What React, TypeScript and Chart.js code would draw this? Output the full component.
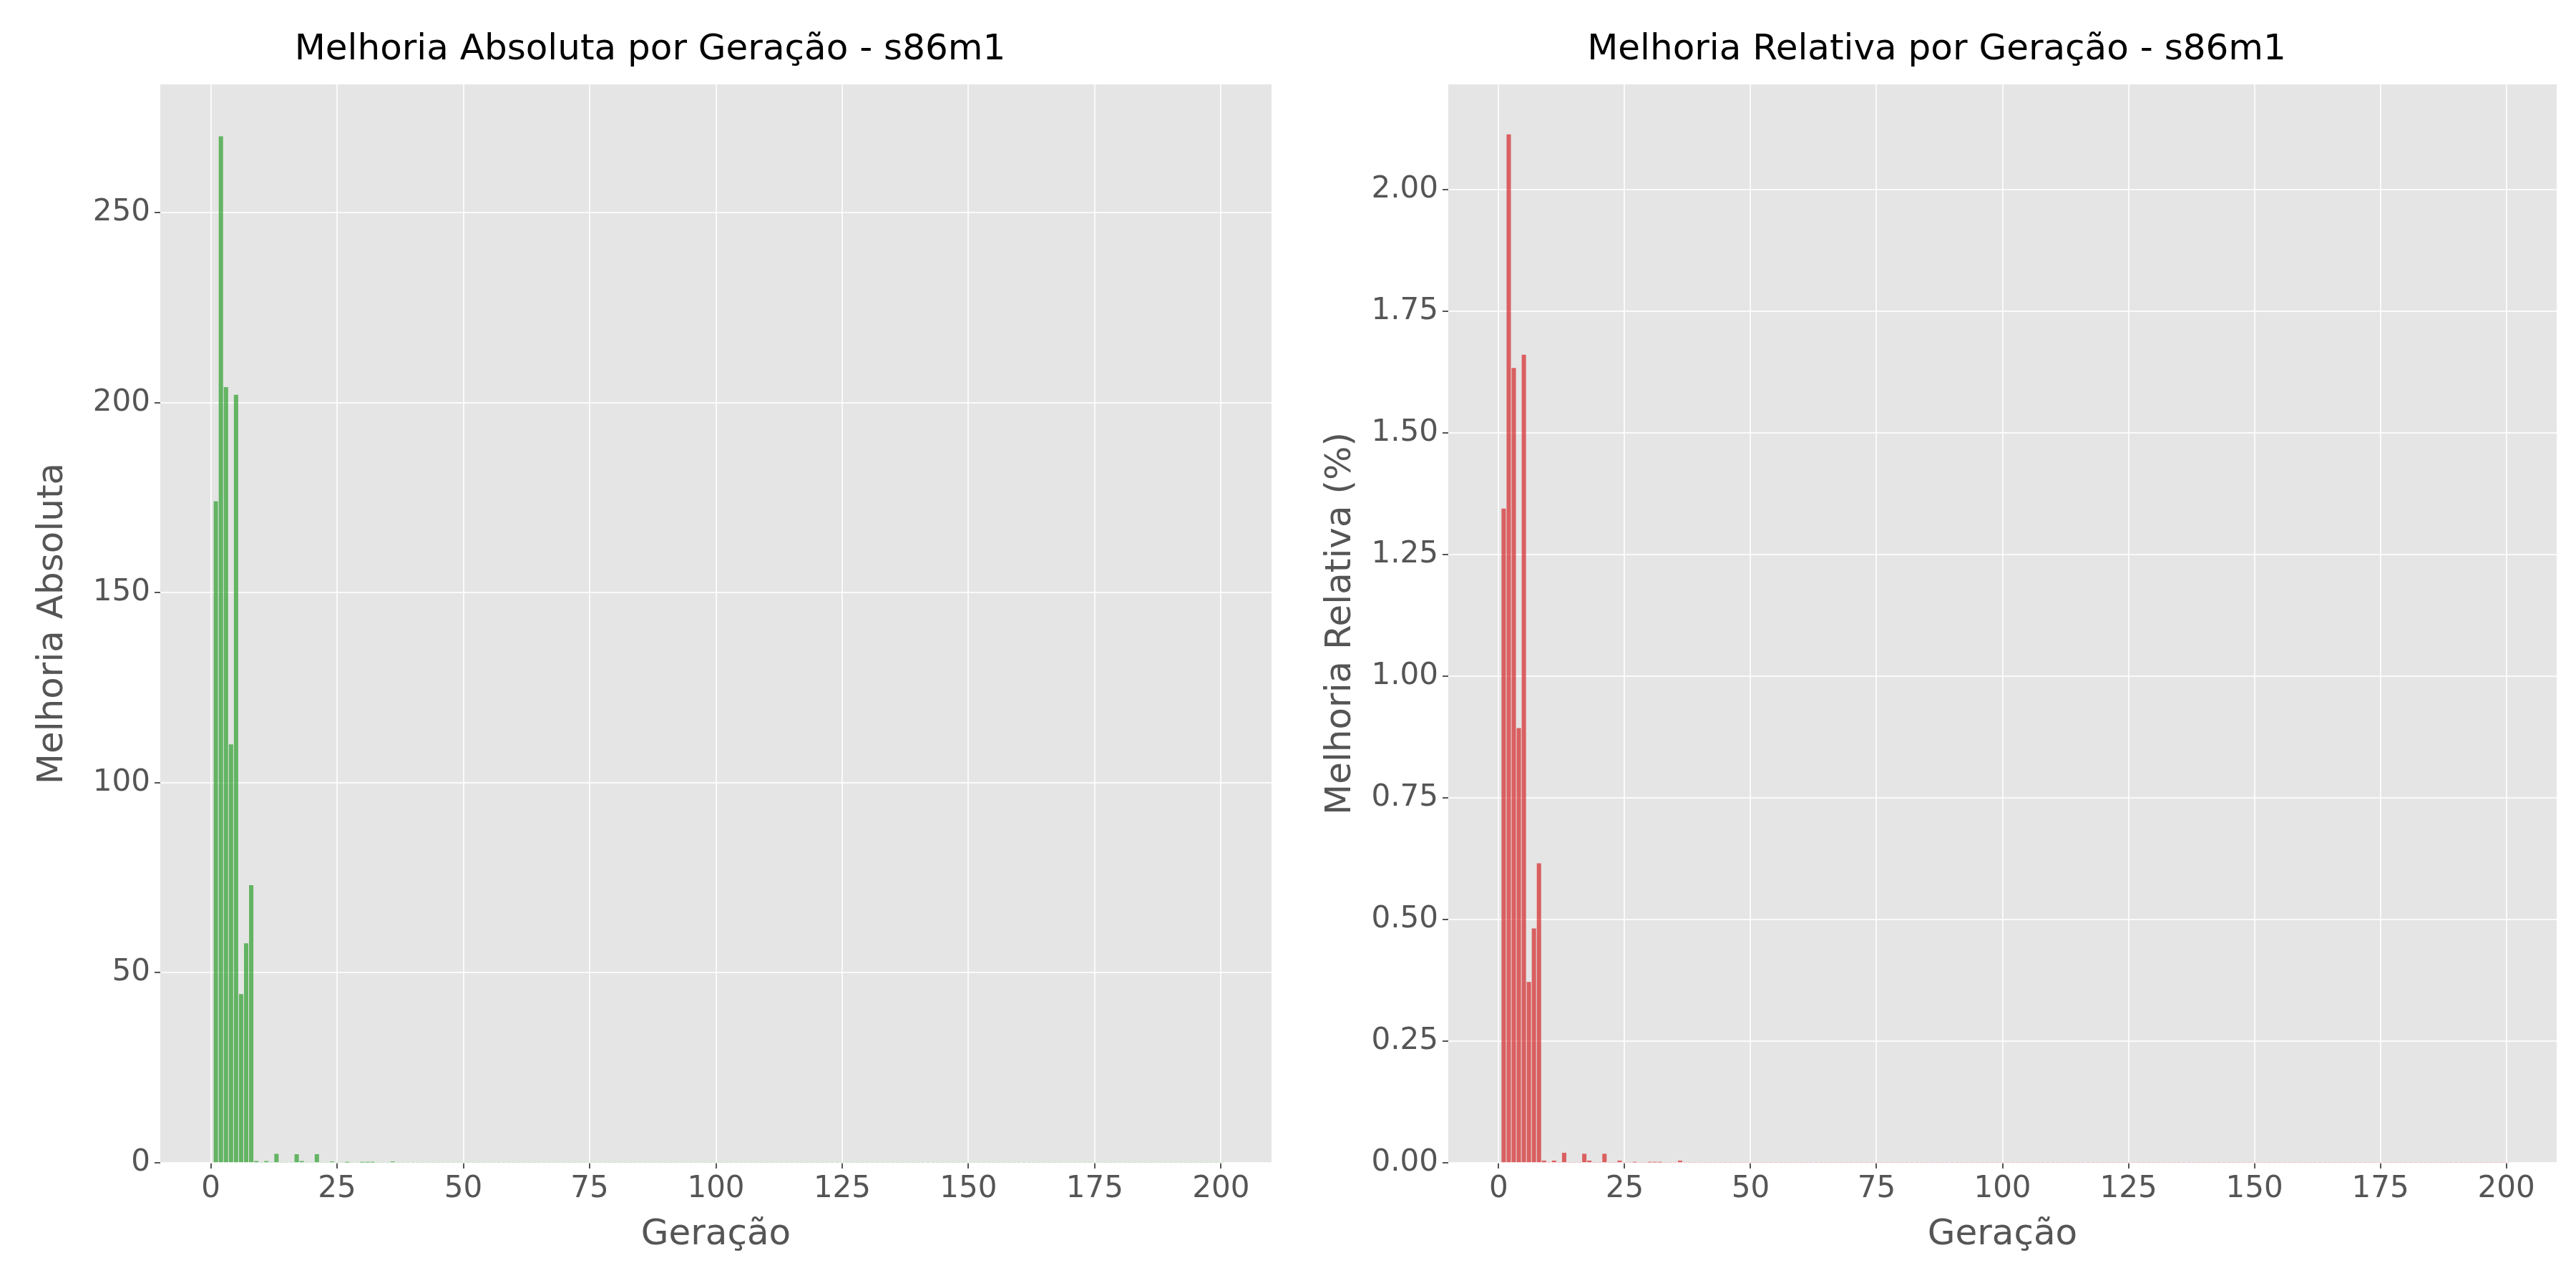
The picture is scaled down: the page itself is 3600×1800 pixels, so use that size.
import React, { useEffect, useRef } from 'react';
import { Chart, registerables } from 'chart.js';

Chart.register(...registerables);

// generations with a non-zero improvement (all others are 0)
const generations = [1, 2, 3, 4, 5, 6, 7, 8, 9, 11, 13, 17, 18, 21, 24, 27, 30, 31, 32, 36];
const absoluteImprovement = [174, 270, 204, 110, 202, 44.3, 57.7, 73, 0.4, 0.4, 2.3, 2.2, 0.4, 2.2, 0.3, 0.1, 0.1, 0.1, 0.1, 0.3];
const relativeImprovement = [1.344, 2.113, 1.633, 0.893, 1.66, 0.371, 0.481, 0.615, 0.004, 0.004, 0.02, 0.018, 0.004, 0.018, 0.004, 0.001, 0.001, 0.001, 0.001, 0.004];
const totalGenerations = 200;
const xTicks = [0, 25, 50, 75, 100, 125, 150, 175, 200];

const FONT = '"DejaVu Sans", sans-serif';

const plotBackground = {
  id: 'plotBackground',
  beforeDraw(chart: any) {
    const { ctx, chartArea } = chart;
    ctx.save();
    ctx.fillStyle = '#e5e5e5';
    ctx.fillRect(chartArea.left, chartArea.top, chartArea.right - chartArea.left, chartArea.bottom - chartArea.top);
    ctx.restore();
  },
};

interface PanelProps {
  title: string;
  yTitle: string;
  values: number[];
  color: string;
  yMax: number;
  yStep: number;
  yDecimals: number;
  left: number;
  padRight: number;
}

const Panel: React.FC<PanelProps> = ({ title, yTitle, values, color, yMax, yStep, yDecimals, left, padRight }) => {
  const ref = useRef<HTMLCanvasElement | null>(null);

  useEffect(() => {
    if (!ref.current) return;
    const byGen = new Map<number, number>();
    generations.forEach((g, i) => byGen.set(g, values[i]));
    const points: { x: number; y: number }[] = [];
    for (let g = 1; g <= totalGenerations; g++) points.push({ x: g, y: byGen.get(g) ?? 0 });

    const chart = new Chart(ref.current, {
      type: 'bar',
      data: {
        datasets: [{ data: points, backgroundColor: color, barThickness: 5.4, borderWidth: 0 }],
      },
      plugins: [plotBackground],
      options: {
        responsive: false,
        animation: false,
        devicePixelRatio: 1,
        layout: { padding: { left: 40, right: padRight, top: 0, bottom: 40 } },
        plugins: {
          legend: { display: false },
          tooltip: { enabled: false },
          title: {
            display: true,
            text: title,
            color: '#000',
            font: { family: FONT, size: 50, weight: 'normal' },
            padding: { top: 40, bottom: 18 },
          },
        },
        scales: {
          x: {
            type: 'linear',
            min: -10,
            max: 210,
            offset: false,
            afterBuildTicks: (s: any) => { s.ticks = xTicks.map((v) => ({ value: v })); },
            afterFit: (s: any) => { s.height = 135; },
            grid: { offset: false, color: 'rgba(255,255,255,0.8)', lineWidth: 2, tickColor: '#555', tickLength: 8 },
            border: { display: false },
            ticks: { color: '#555', font: { family: FONT, size: 42 }, padding: 4 },
            title: { display: true, text: 'Geração', color: '#555', font: { family: FONT, size: 50 }, padding: { top: 4 } },
          },
          y: {
            min: 0,
            max: yMax,
            afterBuildTicks: (s: any) => {
              const t = [];
              for (let v = 0; v <= yMax + 1e-9; v += yStep) t.push({ value: v });
              s.ticks = t;
            },
            afterFit: (s: any) => { s.width = 184; },
            grid: { color: 'rgba(255,255,255,0.8)', lineWidth: 2, tickColor: '#555', tickLength: 8 },
            border: { display: false },
            ticks: {
              color: '#555',
              font: { family: FONT, size: 42 },
              padding: 6,
              callback: (v: any) => Number(v).toFixed(yDecimals),
            },
            title: { display: true, text: yTitle, color: '#555', font: { family: FONT, size: 50 } },
          },
        },
      },
    });
    return () => chart.destroy();
  }, [title, yTitle, values, color, yMax, yStep, yDecimals, padRight]);

  return <canvas ref={ref} width={1800} height={1800} style={{ position: 'absolute', left, top: 0 }} />;
};

const App: React.FC = () => (
  <div style={{ position: 'fixed', left: 0, top: 0, width: 3600, height: 1800, background: '#fff' }}>
    <Panel
      title="Melhoria Absoluta por Geração - s86m1"
      yTitle="Melhoria Absoluta"
      values={absoluteImprovement}
      color="rgba(44,160,44,0.7)"
      yMax={283.7}
      yStep={50}
      yDecimals={0}
      left={0}
      padRight={23}
    />
    <Panel
      title="Melhoria Relativa por Geração - s86m1"
      yTitle="Melhoria Relativa (%)"
      values={relativeImprovement}
      color="rgba(214,39,40,0.7)"
      yMax={2.216}
      yStep={0.25}
      yDecimals={2}
      left={1800}
      padRight={27}
    />
  </div>
);

export default App;
